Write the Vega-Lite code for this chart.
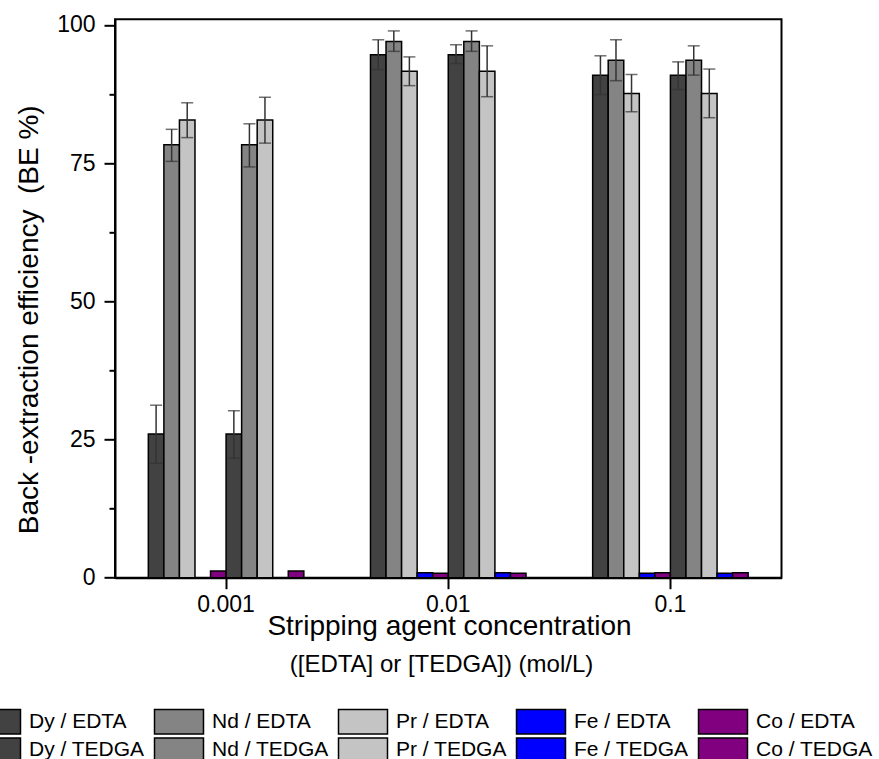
{
  "$schema": "https://vega.github.io/schema/vega-lite/v6.json",
  "width": 666.5,
  "height": 558.4,
  "autosize": {"type": "none"},
  "padding": {"left": 115, "top": 19.3, "right": 97.5, "bottom": 181.3},
  "background": "white",
  "data": {
    "values": [
      {"conc": "0.001", "series": "Dy / EDTA", "value": 26.0, "lo": 20.7, "hi": 31.2},
      {"conc": "0.001", "series": "Nd / EDTA", "value": 78.3, "lo": 75.3, "hi": 81.1},
      {"conc": "0.001", "series": "Pr / EDTA", "value": 82.8, "lo": 79.6, "hi": 85.9},
      {"conc": "0.001", "series": "Fe / EDTA", "value": 0.0},
      {"conc": "0.001", "series": "Co / EDTA", "value": 1.2},
      {"conc": "0.001", "series": "Dy / TEDGA", "value": 26.0, "lo": 21.6, "hi": 30.2},
      {"conc": "0.001", "series": "Nd / TEDGA", "value": 78.3, "lo": 74.3, "hi": 82.1},
      {"conc": "0.001", "series": "Pr / TEDGA", "value": 82.8, "lo": 78.6, "hi": 86.9},
      {"conc": "0.001", "series": "Fe / TEDGA", "value": 0.0},
      {"conc": "0.001", "series": "Co / TEDGA", "value": 1.2},
      {"conc": "0.01", "series": "Dy / EDTA", "value": 94.6, "lo": 91.9, "hi": 97.3},
      {"conc": "0.01", "series": "Nd / EDTA", "value": 97.0, "lo": 95.2, "hi": 98.9},
      {"conc": "0.01", "series": "Pr / EDTA", "value": 91.6, "lo": 89.0, "hi": 94.2},
      {"conc": "0.01", "series": "Fe / EDTA", "value": 0.9},
      {"conc": "0.01", "series": "Co / EDTA", "value": 0.8},
      {"conc": "0.01", "series": "Dy / TEDGA", "value": 94.6, "lo": 93.0, "hi": 96.4},
      {"conc": "0.01", "series": "Nd / TEDGA", "value": 97.0, "lo": 95.2, "hi": 98.9},
      {"conc": "0.01", "series": "Pr / TEDGA", "value": 91.6, "lo": 87.0, "hi": 96.2},
      {"conc": "0.01", "series": "Fe / TEDGA", "value": 0.9},
      {"conc": "0.01", "series": "Co / TEDGA", "value": 0.8},
      {"conc": "0.1", "series": "Dy / EDTA", "value": 90.9, "lo": 87.4, "hi": 94.4},
      {"conc": "0.1", "series": "Nd / EDTA", "value": 93.6, "lo": 89.9, "hi": 97.3},
      {"conc": "0.1", "series": "Pr / EDTA", "value": 87.6, "lo": 84.3, "hi": 91.0},
      {"conc": "0.1", "series": "Fe / EDTA", "value": 0.8},
      {"conc": "0.1", "series": "Co / EDTA", "value": 0.9},
      {"conc": "0.1", "series": "Dy / TEDGA", "value": 90.9, "lo": 88.3, "hi": 93.3},
      {"conc": "0.1", "series": "Nd / TEDGA", "value": 93.6, "lo": 90.9, "hi": 96.2},
      {"conc": "0.1", "series": "Pr / TEDGA", "value": 87.6, "lo": 83.2, "hi": 92.0},
      {"conc": "0.1", "series": "Fe / TEDGA", "value": 0.8},
      {"conc": "0.1", "series": "Co / TEDGA", "value": 0.9}
    ]
  },
  "encoding": {
    "xOffset": {
      "field": "series",
      "type": "nominal",
      "scale": {
        "domain": ["Dy / EDTA", "Nd / EDTA", "Pr / EDTA", "Fe / EDTA", "Co / EDTA", "Dy / TEDGA", "Nd / TEDGA", "Pr / TEDGA", "Fe / TEDGA", "Co / TEDGA"],
        "paddingInner": 0,
        "paddingOuter": 0
      }
    }
  },
  "layer": [
    {
      "mark": {"type": "bar", "stroke": "black", "strokeWidth": 1.5, "opacity": 1},
      "encoding": {
        "x": {
          "field": "conc",
          "type": "nominal",
          "sort": ["0.001", "0.01", "0.1"],
          "scale": {"paddingInner": 0.3, "paddingOuter": 0.15},
          "axis": {
            "orient": "bottom",
            "title": "Stripping agent concentration",
            "titleFontSize": 28,
            "titleBaseline": "alphabetic",
            "titleY": 57,
            "titleX": 334,
            "labelAngle": 0,
            "tickSize": 11,
            "labelPadding": 5
          }
        },
        "y": {
          "field": "value",
          "type": "quantitative",
          "scale": {"domain": [0, 101], "nice": false, "zero": true},
          "axis": {
            "title": "Back -extraction efficiency \u00a0(BE %)",
            "titleFontSize": 28,
            "titleAngle": -90,
            "titleBaseline": "alphabetic",
            "titleAlign": "center",
            "titleX": -78,
            "titleY": 300,
            "values": [0, 12.5, 25, 37.5, 50, 62.5, 75, 87.5, 100],
            "labelExpr": "datum.value % 25 === 0 ? datum.label : ''",
            "tickSize": {"condition": {"test": "datum.value % 25 === 0", "value": 11}, "value": 6},
            "labelPadding": 9
          }
        },
        "color": {
          "field": "series",
          "type": "nominal",
          "scale": {
            "domain": ["Dy / EDTA", "Nd / EDTA", "Pr / EDTA", "Fe / EDTA", "Co / EDTA", "Dy / TEDGA", "Nd / TEDGA", "Pr / TEDGA", "Fe / TEDGA", "Co / TEDGA"],
            "range": ["#424242", "#848484", "#c4c4c4", "#0000ff", "#800080", "#424242", "#848484", "#c4c4c4", "#0000ff", "#800080"]
          },
          "legend": {
            "orient": "none",
            "legendX": -132,
            "legendY": 689,
            "direction": "horizontal",
            "columns": 5,
            "title": null,
            "symbolType": "M-2,-1H2V1H-2Z",
            "symbolSize": 600,
            "symbolStrokeColor": "black",
            "symbolStrokeWidth": 1.5,
            "symbolOpacity": 1,
            "labelFont": "Liberation Sans",
            "labelFontSize": 21,
            "labelColor": "black",
            "labelOffset": 20,
            "labelLimit": 300,
            "columnPadding": 6,
            "rowPadding": -3
          }
        }
      }
    },
    {
      "transform": [{"filter": "isValid(datum.lo)"}],
      "mark": {"type": "rule", "color": "#333333", "strokeWidth": 1.5},
      "encoding": {
        "x": {
          "field": "conc",
          "type": "nominal",
          "sort": ["0.001", "0.01", "0.1"],
          "scale": {"paddingInner": 0.3, "paddingOuter": 0.15},
          "axis": {
            "orient": "bottom",
            "title": "([EDTA] or [TEDGA]) (mol/L)",
            "titleFontSize": 24,
            "titleBaseline": "alphabetic",
            "titleY": 94,
            "titleX": 326,
            "labels": false,
            "ticks": false,
            "domain": false
          }
        },
        "y": {"field": "lo", "type": "quantitative"},
        "y2": {"field": "hi"}
      }
    },
    {
      "transform": [{"filter": "isValid(datum.lo)"}],
      "mark": {"type": "tick", "color": "#333333", "thickness": 1.5, "size": 12, "orient": "horizontal"},
      "encoding": {
        "x": {"field": "conc", "type": "nominal", "sort": ["0.001", "0.01", "0.1"], "axis": null},
        "y": {"field": "lo", "type": "quantitative"}
      }
    },
    {
      "transform": [{"filter": "isValid(datum.lo)"}],
      "mark": {"type": "tick", "color": "#333333", "thickness": 1.5, "size": 12, "orient": "horizontal"},
      "encoding": {
        "x": {"field": "conc", "type": "nominal", "sort": ["0.001", "0.01", "0.1"], "axis": null},
        "y": {"field": "hi", "type": "quantitative"}
      }
    }
  ],
  "resolve": {"axis": {"x": "independent"}},
  "config": {
    "view": {"stroke": "black", "strokeWidth": 2},
    "axis": {
      "grid": false,
      "domainColor": "black",
      "domainWidth": 2,
      "tickColor": "black",
      "tickWidth": 2,
      "labelFont": "Liberation Sans",
      "labelFontSize": 23,
      "labelColor": "black",
      "titleFont": "Liberation Sans",
      "titleFontWeight": "normal",
      "titleColor": "black"
    }
  }
}
